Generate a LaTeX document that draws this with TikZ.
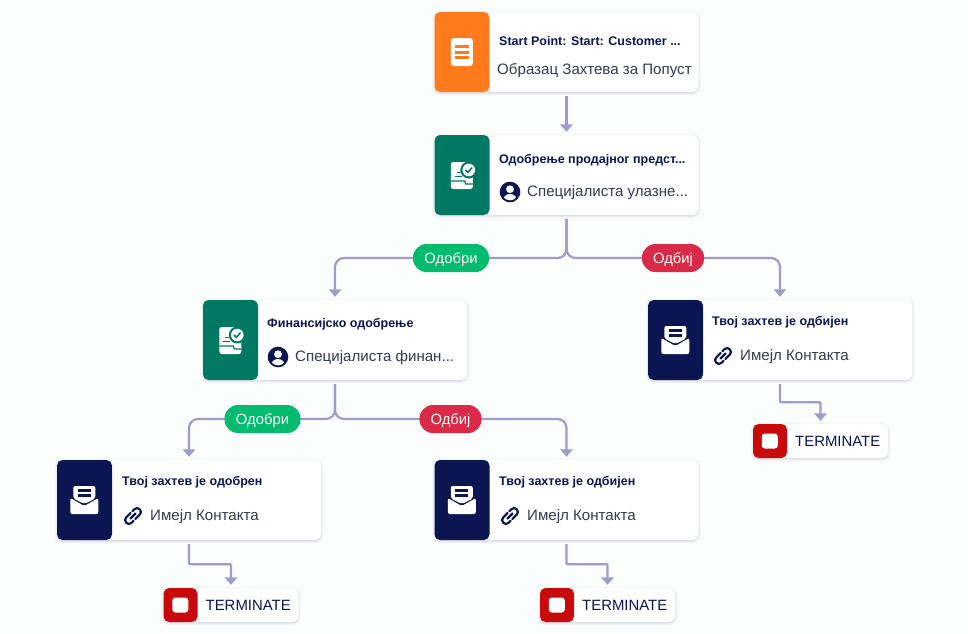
\documentclass[tikz,border=0pt]{standalone}
\usepackage{fontspec}
\setmainfont{Liberation Sans}
\usetikzlibrary{arrows.meta,shadows,backgrounds}
\definecolor{navy}{HTML}{0A1551}
\definecolor{orangebox}{HTML}{FF7A1A}
\definecolor{greenbox}{HTML}{007862}
\definecolor{redbox}{HTML}{C90A0A}
\definecolor{linecol}{HTML}{9E9CCB}
\definecolor{bodytxt}{HTML}{343A50}
\definecolor{okpill}{HTML}{03BB6F}
\definecolor{nopill}{HTML}{DA2A47}
\tikzset{
    formicon/.pic = {
        \fill[white, rounded corners=3] (-11,-14) rectangle (11,14);
        \foreach \y in {-5.5,0,5.5}
            \fill[orangebox] (-7,\y-1.5) rectangle (7,\y+1.5);
    },
    checkicon/.pic = {
        \fill[white, rounded corners=2.5] (-11,-13) rectangle (11,14);
        \fill[greenbox] (7,-5) circle (8.5);
        \fill[white] (7,-5) circle (6.3);
        \draw[greenbox, line width=1.6] (3.6,-5) -- (6,-2.6) -- (10.2,-7.4);
        \fill[greenbox] (-5,-3) rectangle (-1,-1.6);
        \fill[greenbox] (-7,1) rectangle (0,2.4);
        \draw[greenbox, line width=1.3] (-11,6) -- (3,6) -- (4,9) -- (11,9);
    },
    mailicon/.pic = {
        \fill[white, rounded corners=2] (-11,-14) -- (11,-14) -- (11,-1.5) -- (0,4) -- (-11,-1.5) -- cycle;
        \fill[white, rounded corners=2] (-14,-2) -- (0,6) -- (14,-2) -- (14,14) -- (-14,14) -- cycle;
        \foreach \y in {-9.5,-4.5}
            \fill[navy] (-6.5,\y-1.2) rectangle (6.5,\y+1.2);
    },
    stopicon/.pic = {
        \fill[white, rounded corners=3] (-8,-7.5) rectangle (8,7.5);
    },
    personicon/.pic = {
        \fill[navy] (0,0) circle (10.3);
        \fill[white] (0,-2.8) circle (3.9);
        \begin{scope}
            \clip (0,0) circle (8.3);
            \fill[white] (0,8.5) ellipse (7 and 6.5);
        \end{scope}
    },
    linkicon/.pic = {
        \begin{scope}[rotate=45, navy, line width=2.2, line cap=round, rounded corners=3.6]
            \draw (0.5,-3.8) -- (-9.5,-3.8) -- (-9.5,3.8) -- (-3,3.8);
            \draw (-0.5,3.8) -- (9.5,3.8) -- (9.5,-3.8) -- (3,-3.8);
            \draw (-3.8,0) -- (3.8,0);
        \end{scope}
    }
}
\begin{document}
\begin{tikzpicture}[x=1pt, y=-1pt,
    softshadow/.style = {general shadow={shadow yshift=-1pt, draw=navy, fill=navy, line width=#1, draw opacity=.025, fill opacity=.025}},
    cardbase/.style = {rectangle, rounded corners=5.5, fill=white, inner sep=0,
        softshadow=5, softshadow=3, softshadow=1.5},
    card/.style = {cardbase, minimum width=264, minimum height=80,
        path picture={\fill[#1] (path picture bounding box.north west) rectangle ([xshift=55]path picture bounding box.south west);}},
    stopbox/.style = {cardbase, minimum width=135, minimum height=34,
        path picture={\fill[redbox] (path picture bounding box.north west) rectangle ([xshift=34]path picture bounding box.south west);}},
    title/.style = {anchor=west, inner sep=0, text=navy, font=\fontsize{12.5}{14}\selectfont\bfseries},
    body/.style = {anchor=west, inner sep=0, text=bodytxt, font=\fontsize{15.1}{17}\selectfont},
    stoptxt/.style = {anchor=west, inner sep=0, text=navy, font=\fontsize{14.9}{16}\selectfont},
    pill/.style = {rectangle, rounded corners=13.5, fill=#1, text=white, inner sep=0, minimum height=28,
        text height=11, text depth=1, font=\fontsize{14.8}{16}\selectfont},
    flow/.style = {draw=linecol, line width=2.2, rounded corners=#1, shorten <=4, shorten >=3,
        -{Triangle[width=12.5,length=7.5]}}]

    % cards
    \node [card=orangebox] (start) at (566.5,52) {};
    \node [card=greenbox] (sales) at (566.5,175) {};
    \node [card=greenbox] (finance) at (335,340) {};
    \node [card=navy] (mailno) at (780,340) {};
    \node [card=navy] (mailok) at (189,500) {};
    \node [card=navy] (mailnob) at (566.5,500) {};
    \node [stopbox] (stopa) at (820.5,441) {};
    \node [stopbox] (stopb) at (231,605) {};
    \node [stopbox] (stopc) at (607.5,605) {};

    % icons
    \pic at ([xshift=27.5]start.west) {formicon};
    \pic at ([xshift=27.5]sales.west) {checkicon};
    \pic at ([xshift=27.5]finance.west) {checkicon};
    \pic at ([xshift=27.5]mailno.west) {mailicon};
    \pic at ([xshift=27.5]mailok.west) {mailicon};
    \pic at ([xshift=27.5]mailnob.west) {mailicon};
    \pic at ([xshift=17]stopa.west) {stopicon};
    \pic at ([xshift=17]stopb.west) {stopicon};
    \pic at ([xshift=17]stopc.west) {stopicon};
    \pic at (510,192) {personicon};
    \pic at (278,357) {personicon};
    \pic at (723,356) {linkicon};
    \pic at (133,516) {linkicon};
    \pic at (510,516) {linkicon};

    % texts
    \node [title] (startT) at (499,41) {Start Point: Start: Customer ...};
    \node [body] (startB) at (497,70.5) {Образац Захтева за Попуст};
    \node [title] (salesT) at (499,160) {Одобрење продајног предст...};
    \node [body] (salesB) at (527,192.5) {Специјалиста улазне...};
    \node [title] (financeT) at (267,324) {Финансијско одобрење};
    \node [body] (financeB) at (295,357.5) {Специјалиста финан...};
    \node [title] (mailnoT) at (712,322.5) {Твој захтев је одбијен};
    \node [body] (mailnoB) at (740,356.5) {Имејл Контакта};
    \node [title] (mailokT) at (122,482.5) {Твој захтев је одобрен};
    \node [body] (mailokB) at (150,516.5) {Имејл Контакта};
    \node [title] (mailnobT) at (499,482.5) {Твој захтев је одбијен};
    \node [body] (mailnobB) at (527,516.5) {Имејл Контакта};
    \node [stoptxt] (stopaT) at (795,441.5) {TERMINATE};
    \node [stoptxt] (stopbT) at (205.5,605.5) {TERMINATE};
    \node [stoptxt] (stopcT) at (582,605.5) {TERMINATE};

    % branch labels
    \node [pill=okpill, minimum width=76] (oka) at (451,258) {Одобри};
    \node [pill=nopill, minimum width=62] (noa) at (673,258) {Одбиј};
    \node [pill=okpill, minimum width=76] (okb) at (262.5,419) {Одобри};
    \node [pill=nopill, minimum width=62] (nob) at (450.5,419) {Одбиј};

    % connectors
    \begin{scope}[on background layer]
        \fill[white!99!navy] (0,0) rectangle (968,633);
        \draw [flow=0] (start.south) -- (sales.north);
        \draw [flow=9] (sales.south) |- (oka.center) -| (finance.north);
        \draw [flow=9] (sales.south) |- (noa.center) -| (mailno.north);
        \draw [flow=9] (finance.south) |- (okb.center) -| (mailok.north);
        \draw [flow=9] (finance.south) |- (nob.center) -| (mailnob.north);
        \draw [flow=1] (mailno.south) -- ++(0,22) -| (stopa.north);
        \draw [flow=1] (mailok.south) -- ++(0,24) -| (stopb.north);
        \draw [flow=1] (mailnob.south) -- ++(0,24) -| (stopc.north);
    \end{scope}
\end{tikzpicture}
\end{document}
